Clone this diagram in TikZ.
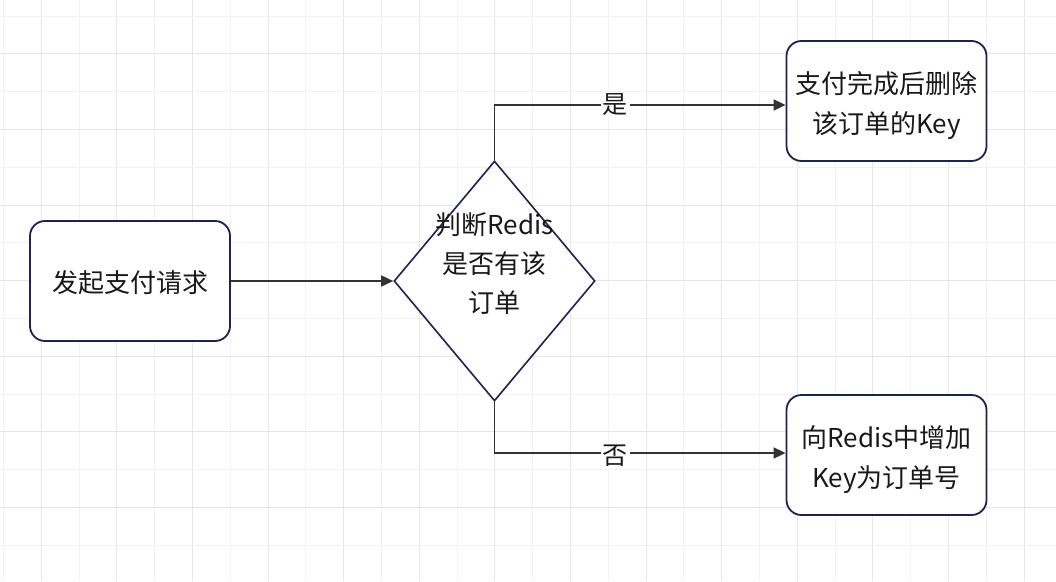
\documentclass[tikz,border=0pt]{standalone}
\usepackage{fontspec}
\setmainfont{Noto Sans CJK SC}
\usetikzlibrary{arrows.meta,shapes.geometric}
\definecolor{navy}{HTML}{1E2348}
\definecolor{conn}{HTML}{333333}
\definecolor{gridminor}{HTML}{F2F2F2}
\definecolor{gridmajor}{HTML}{E6E6E6}
\newcommand{\lowertext}[2]{\raisebox{-#1}[\height][\depth]{\parbox{190pt}{\centering #2}}}
\tikzset{
  x=1pt, y=-1pt,
  boxnode/.style={draw=navy, line width=1.8pt, rounded corners=15pt, fill=white,
    minimum width=200pt, minimum height=120pt, align=center, inner sep=0pt,
    font=\fontsize{26}{40}\selectfont, text=black!90},
  decnode/.style={draw=navy, line width=1.6pt, diamond, fill=white,
    minimum width=201pt, minimum height=240pt, inner sep=0pt},
  dectext/.style={align=center, inner sep=0pt,
    font=\fontsize{26}{39}\selectfont, text=black!90},
  conline/.style={draw=conn, line width=1.6pt, -{Triangle[length=12pt,width=11pt]}},
  lbl/.style={fill=white, inner sep=2pt, font=\fontsize{25}{28}\selectfont, text=black!90}
}
\begin{document}
\begin{tikzpicture}
\useasboundingbox (0,0) rectangle (1056,581);
\fill[white] (0,0) rectangle (1056,581);
% grid
\foreach \k in {0,...,27} {
  \pgfmathsetmacro{\xx}{3.5+37.8*\k}
  \ifodd\k \draw[gridmajor, line width=1pt] (\xx,0) -- (\xx,581);
  \else \draw[gridminor, line width=1pt] (\xx,0) -- (\xx,581); \fi
}
\foreach \k in {0,...,15} {
  \pgfmathsetmacro{\yy}{16+37.8*\k}
  \ifodd\k \draw[gridmajor, line width=1pt] (0,\yy) -- (1056,\yy);
  \else \draw[gridminor, line width=1pt] (0,\yy) -- (1056,\yy); \fi
}
% nodes
\node[boxnode] (start) at (130,281) {\lowertext{2pt}{发起支付请求}};
\node[decnode] (dec) at (494.5,281) {};
\node[dectext] (dectxt) at (494.5,264) {判断Redis\\是否有该\\订单};
\node[boxnode] (yes) at (886.5,101) {\lowertext{5pt}{支付完成后删除\\该订单的Key}};
\node[boxnode] (no) at (886.5,455) {\lowertext{5pt}{向Redis中增加\\Key为订单号}};
% connectors
\draw[conline] (start.east) -- (dec.west);
\draw[conline] (dec.north) |- ([yshift=-4pt]yes.west) node[lbl, pos=0.707] {是};
\draw[conline] (dec.south) |- ([yshift=2pt]no.west) node[lbl, pos=0.707, yshift=-3pt] {否};
\end{tikzpicture}
\end{document}
